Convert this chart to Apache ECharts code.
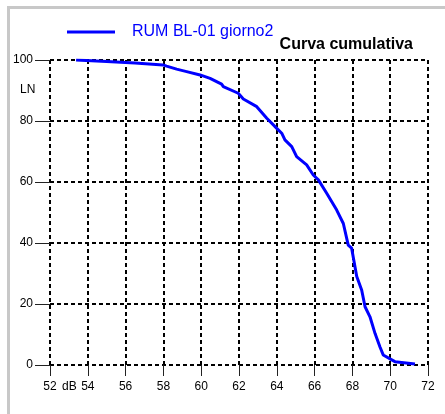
<!DOCTYPE html>
<html><head><meta charset="utf-8">
<script src="https://cdn.jsdelivr.net/npm/echarts@6/dist/echarts.min.js"></script>
<style>html,body{margin:0;padding:0;background:#fff}#c{width:445px;height:414px}</style>
</head><body><div id="c"></div>
<script>
const seriesName = "RUM BL-01 giorno2";
const titleText = "Curva cumulativa";
const xTicks = [52,54,56,58,60,62,64,66,68,70,72];
const yTicks = [0,20,40,60,80,100];
const levelDb = [53.38,55.0,56.5,57.98,58.17,58.70,59.23,59.94,60.47,61.08,61.17,61.96,62.23,62.94,63.47,64.0,64.26,64.43,64.79,65.05,65.58,65.93,66.2,66.64,67.17,67.52,67.78,67.96,68.23,68.49,68.67,68.93,69.2,69.46,69.63,70.25,71.31];
const lnValues = [100,99.5,99.0,98.4,98.0,97.0,96.2,95.1,94.0,92.1,91.3,89.1,87.2,84.7,80.9,77.6,76.0,73.8,71.6,68.3,65.6,62.3,60.7,56.3,50.8,46.4,39.3,38.3,29.0,24.6,19.1,15.8,10.3,5.9,3.3,1.1,0.3];

const chart = echarts.init(document.getElementById('c'), null, {renderer:'canvas'});
const ff = '"Liberation Sans", Arial, sans-serif';
const dashed = {show:true, lineStyle:{color:'#000', width:2, type:[4,3]}};
chart.setOption({
  animation:false,
  textStyle:{fontFamily:ff},
  grid:{left:50, top:60, right:17, bottom:49, containLabel:false},
  legend:{
    data:[seriesName], left:62, top:19, icon:'rect', itemWidth:48, itemHeight:3,
    textStyle:{color:'#0000ff', fontSize:16, fontFamily:ff, padding:[0,0,0,12]}
  },
  graphic:[
    {type:'rect', shape:{x:7,y:6,width:3,height:420}, style:{fill:'#c8c8c8'}, silent:true},
    {type:'rect', shape:{x:7,y:6,width:450,height:3}, style:{fill:'#c8c8c8'}, silent:true},
    {type:'text', right:32, top:37, style:{text:titleText, font:'bold 16px '+ff, fill:'#000'}},
    {type:'text', left:20, top:84, style:{text:'LN', font:'12px '+ff, fill:'#000'}},
    {type:'text', left:62, top:381, style:{text:'dB', font:'12px '+ff, fill:'#000'}}
  ],
  xAxis:{
    type:'value', min:xTicks[0], max:xTicks[xTicks.length-1], interval:2,
    axisLine:{show:false},
    axisTick:{show:true, length:11, lineStyle:{color:'#222', width:1}},
    axisLabel:{color:'#000', fontSize:12, margin:16, fontFamily:ff},
    splitLine:dashed
  },
  yAxis:{
    type:'value', min:yTicks[0], max:yTicks[yTicks.length-1], interval:20,
    axisLine:{show:false},
    axisTick:{show:true, length:15, lineStyle:{color:'#222', width:1}},
    axisLabel:{color:'#000', fontSize:12, margin:17, fontFamily:ff},
    splitLine:dashed
  },
  series:[{
    name:seriesName, type:'line', showSymbol:false, symbol:'none',
    data: levelDb.map((x,i)=>[x, lnValues[i]]),
    lineStyle:{color:'#0000ff', width:3}, itemStyle:{color:'#0000ff'}, z:5
  }]
});
</script></body></html>
